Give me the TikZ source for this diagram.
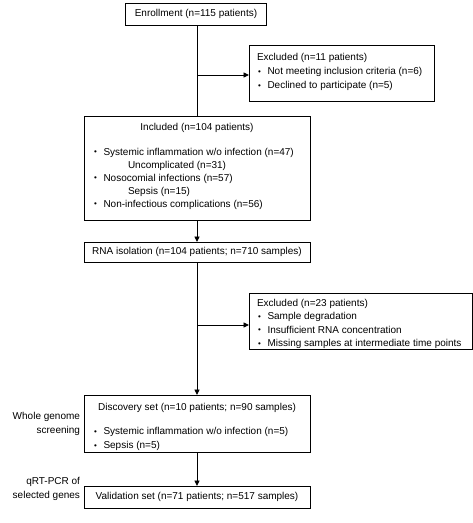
\documentclass[tikz,border=0pt]{standalone}
\usepackage{fontspec}
\setmainfont{Liberation Sans}
\usetikzlibrary{arrows.meta}
\newcommand{\bul}{\makebox[10.5pt][l]{\hspace*{1pt}\raisebox{0.4pt}{\fontsize{8}{8}\selectfont •}}}
\begin{document}
\begin{tikzpicture}[x=1pt,y=-1pt,
  font=\fontsize{10}{14}\selectfont,
  box/.style={draw=black,line width=0.9pt,inner sep=0pt,outer sep=0pt},
  txt/.style={inner sep=0pt,outer sep=0pt,align=left},
  conn/.style={line width=0.9pt},
  arr/.style={conn,-{Triangle[length=5.5pt,width=5pt]}}]
\useasboundingbox (0,0) rectangle (473,523);
% boxes
\node[box,minimum width=141pt,minimum height=22pt] (enroll) at (196,14) {Enrollment (n=115 patients)};
\node[box,minimum width=185pt,minimum height=56pt] (excl1) at (341.5,73) {};
\node[box,minimum width=226pt,minimum height=104pt] (incl) at (197,168) {};
\node[box,minimum width=226pt,minimum height=20pt] (rna) at (197,252) {RNA isolation (n=104 patients; n=710 samples)};
\node[box,minimum width=223pt,minimum height=56pt] (excl2) at (360.5,321) {};
\node[box,minimum width=226pt,minimum height=57pt] (disc) at (197,423.5) {};
\node[box,minimum width=226pt,minimum height=22pt] (valid) at (197,497) {Validation set (n=71 patients; n=517 samples)};
% texts inside boxes
\node[txt,anchor=west] (excl1t) at (257,72) {Excluded (n=11 patients)\\
\bul Not meeting inclusion criteria (n=6)\\
\bul Declined to participate (n=5)};
\node[txt] (inclh) at (197,128) {Included (n=104 patients)};
\node[txt,anchor=north west,font=\fontsize{10}{13}\selectfont] (inclt) at (93,148) {\bul Systemic inflammation w/o infection (n=47)\\
\hspace*{35pt}Uncomplicated (n=31)\\
\bul Nosocomial infections (n=57)\\
\hspace*{35pt}Sepsis (n=15)\\
\bul Non-infectious complications (n=56)};
\node[txt,anchor=west,font=\fontsize{10}{13.3}\selectfont] (excl2t) at (257,324) {Excluded (n=23 patients)\\
\bul Sample degradation\\
\bul Insufficient RNA concentration\\
\bul Missing samples at intermediate time points};
\node[txt] (disch) at (197,408) {Discovery set (n=10 patients; n=90 samples)};
\node[txt,anchor=west] (disct) at (93,439) {\bul Systemic inflammation w/o infection (n=5)\\
\bul Sepsis (n=5)};
% side labels
\node[txt,align=right,anchor=east] (lab1) at (80,424) {Whole genome\\screening};
\node[txt,align=right,anchor=east] (lab2) at (80,489) {qRT-PCR of\\selected genes};
% connectors
\coordinate (b1) at (197,75);
\coordinate (b2) at (197,325);
\draw[conn] (incl.north |- enroll.south) -- (incl.north);
\draw[arr] (b1) -- (b1 -| excl1.west);
\draw[arr] (incl.south) -- (rna.north);
\draw[arr] (rna.south) -- (disc.north);
\draw[arr] (b2) -- (b2 -| excl2.west);
\draw[arr] (disc.south) -- (valid.north);
\end{tikzpicture}
\end{document}
